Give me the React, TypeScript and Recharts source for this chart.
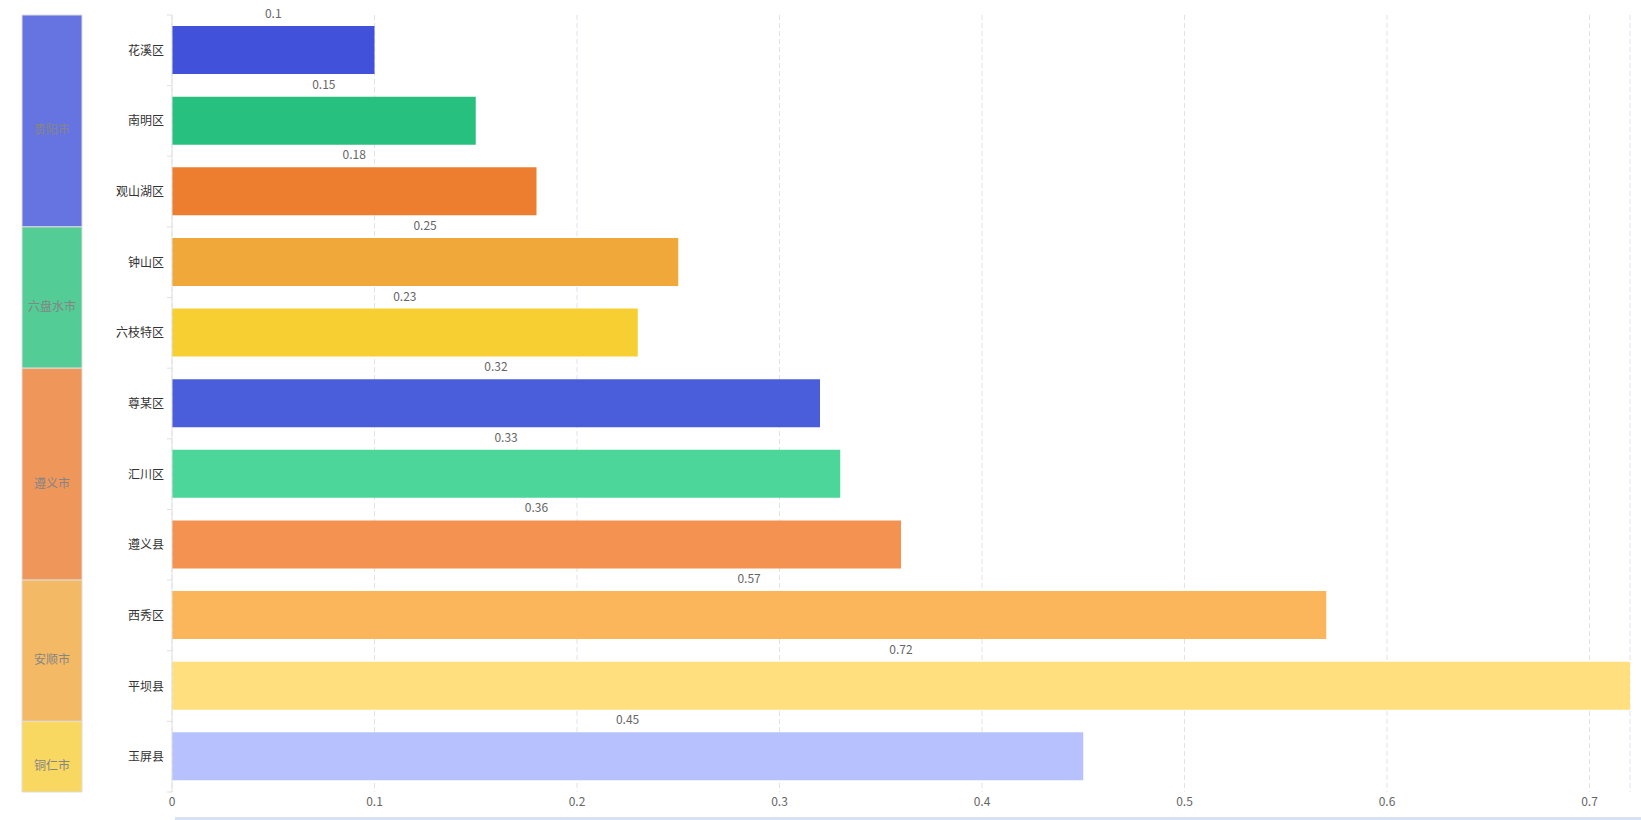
import { BarChart, Bar, XAxis, YAxis, CartesianGrid, Cell, LabelList } from "recharts";

// districts (top to bottom) and their values
const districts = ["花溪区", "南明区", "观山湖区", "钟山区", "六枝特区", "尊某区", "汇川区", "遵义县", "西秀区", "平坝县", "玉屏县"];
const values = [0.1, 0.15, 0.18, 0.25, 0.23, 0.32, 0.33, 0.36, 0.57, 0.72, 0.45];
const barColors = ["#4151d9", "#28c07e", "#ed7d2f", "#f0a83a", "#f7cf33", "#4a5edc", "#4dd699", "#f49351", "#fbb65b", "#ffdf7e", "#b6c1fd"];
const xTicks = [0, 0.1, 0.2, 0.3, 0.4, 0.5, 0.6, 0.7];

// cities, with how many districts each one groups
const cities = ["贵阳市", "六盘水市", "遵义市", "安顺市", "铜仁市"];
const cityDistrictCounts = [3, 2, 3, 2, 1];
const cityColors = ["#6674e2", "#53cc96", "#ef965b", "#f4b964", "#f9d862"];

const W = 1641;
const H = 820;
const TOP = 15;
const BOTTOM = 28;
const AXIS_W = 172;
const FONT = "'Noto Sans CJK SC', 'Noto Sans', sans-serif";

const chartData = districts.map((name, i) => ({ name, value: values[i] }));

const groupRow: Record<string, string | number> = { name: "g" };
cities.forEach((c, i) => {
  groupRow[`c${i}`] = cityDistrictCounts[i];
});
const totalDistricts = cityDistrictCounts.reduce((a, b) => a + b, 0);

const band = (H - TOP - BOTTOM) / districts.length;

const DistrictTick = (props: any) => {
  const { x, y, payload, index } = props;
  const axisX = x + 8;
  return (
    <g>
      <line x1={axisX - 5} x2={axisX} y1={y - band / 2} y2={y - band / 2} stroke="#e0e0e0" />
      {index === districts.length - 1 && (
        <line x1={axisX - 5} x2={axisX} y1={y + band / 2} y2={y + band / 2} stroke="#e0e0e0" />
      )}
      <text x={x} y={y - 1} textAnchor="end" dominantBaseline="central" fill="#333" fontSize={12} fontFamily={FONT}>
        {payload.value}
      </text>
    </g>
  );
};

const ValueLabel = (props: any) => {
  const { x, y, width, value } = props;
  return (
    <text x={x + width / 2} y={y - 8} textAnchor="middle" fill="#666" fontSize={12} fontFamily={FONT}>
      {value}
    </text>
  );
};

const cityLabel = (i: number) => (props: any) => {
  const { x, y, width, height } = props;
  return (
    <text x={x + width / 2} y={y + height / 2 + 8} textAnchor="middle" dominantBaseline="central" fill="#858585" fontSize={12} fontFamily={FONT}>
      {cities[i]}
    </text>
  );
};

export default function App() {
  return (
    <div style={{ position: "relative", width: W, height: H, background: "#fff", fontFamily: FONT }}>
      <style>{`body{margin:0}`}</style>
      <div style={{ position: "absolute", left: 0, top: 0 }}>
        <BarChart
          width={W}
          height={H}
          data={chartData}
          layout="vertical"
          margin={{ top: TOP, right: 11, bottom: 0, left: 0 }}
        >
          <CartesianGrid horizontal={false} stroke="#e0e2ec" strokeDasharray="5 3" />
          <XAxis
            type="number"
            domain={[0, "dataMax"]}
            ticks={xTicks}
            height={BOTTOM}
            tickLine={false}
            axisLine={false}
            tickSize={0}
            tickMargin={5}
            tick={{ fill: "#666", fontSize: 12, fontFamily: FONT }}
          />
          <YAxis
            type="category"
            dataKey="name"
            width={AXIS_W}
            axisLine={{ stroke: "#e0e0e0" }}
            tickLine={false}
            tickSize={0}
            tickMargin={8}
            tick={<DistrictTick />}
            interval={0}
          />
          <Bar dataKey="value" barSize={48} isAnimationActive={false}>
            {chartData.map((d, i) => (
              <Cell key={d.name} fill={barColors[i]} />
            ))}
            <LabelList dataKey="value" content={<ValueLabel />} />
          </Bar>
        </BarChart>
      </div>
      <div style={{ position: "absolute", left: 0, top: 0 }}>
        <BarChart
          width={100}
          height={H}
          data={[groupRow]}
          barCategoryGap={0}
          margin={{ top: TOP, right: 18, bottom: BOTTOM, left: 22 }}
        >
          <XAxis dataKey="name" hide />
          <YAxis type="number" domain={[0, totalDistricts]} reversed hide />
          {cities.map((c, i) => (
            <Bar
              key={c}
              dataKey={`c${i}`}
              stackId="city"
              fill={cityColors[i]}
              stroke="#dddddd"
              strokeWidth={1}
              isAnimationActive={false}
            >
              <LabelList dataKey={`c${i}`} content={cityLabel(i)} />
            </Bar>
          ))}
        </BarChart>
      </div>
      <div style={{ position: "absolute", left: 175, top: 817, width: W - 175, height: 3, background: "#d8e1f4" }} />
    </div>
  );
}
